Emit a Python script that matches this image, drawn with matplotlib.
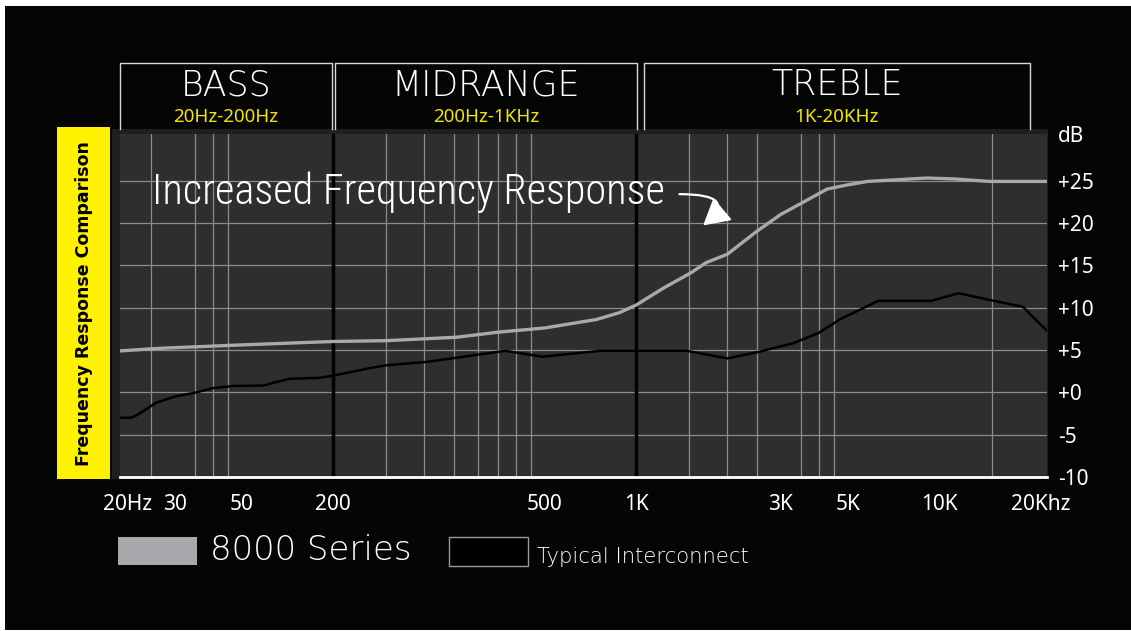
import numpy as np
import matplotlib
matplotlib.use("Agg")
import matplotlib.pyplot as plt
from matplotlib.patches import Rectangle, FancyArrowPatch
from matplotlib.ticker import NullFormatter
from matplotlib.transforms import blended_transform_factory, ScaledTranslation

# 8000 Series response (Hz, dB)
series_freq = [20, 27, 50, 100, 150, 255, 350, 500, 740, 880, 1000, 1230, 1430,
               1530, 1700, 2000, 2500, 3000, 3500, 4270, 5000, 5800, 9100,
               11100, 14700, 22700]
series_db = [4.9, 5.2, 5.6, 6.0, 6.1, 6.5, 7.1, 7.6, 8.6, 9.4, 10.3, 12.3, 13.6,
             14.2, 15.3, 16.3, 19.0, 21.0, 22.3, 24.0, 24.5, 24.9, 25.3,
             25.2, 24.9, 24.9]

# typical interconnect (Hz, dB)
typ_freq = [20, 21.5, 22.5, 26, 30, 35.5, 40, 47, 59, 63, 72, 89, 98, 130, 150,
            205, 370, 490, 760, 1470, 2000, 2560, 3300, 4000, 4700, 6300, 9400,
            11600, 14700, 18900, 20500, 22700]
typ_db = [-3.0, -3.0, -2.7, -1.25, -0.5, 0.0, 0.5, 0.75, 0.8, 1.1, 1.6, 1.7, 1.9,
          2.8, 3.2, 3.6, 4.9, 4.2, 4.9, 4.9, 4.0, 4.8, 5.8, 7.0, 8.6, 10.8, 10.8,
          11.7, 10.9, 10.1, 8.8, 7.3]

tick_freq = [20, 30, 50, 100, 500, 1000, 3000, 5000, 10000, 20000]
tick_text = ['20Hz', '30', '50', '200', '500', '1K', '3K', '5K', '10K', '20Khz']
grid_freq = [25, 30, 35, 40, 45, 50, 150, 200, 250, 300, 350, 400, 450, 500,
             1500, 2000, 2500, 3000, 3500, 4000, 4500, 5000, 10000, 15000, 20000]
band_lines = [100, 1000]
db_ticks = [-10, -5, 0, 5, 10, 15, 20, 25]
db_text = ['-10', '-5', '+0', '+5', '+10', '+15', '+20', '+25']

bands = ['BASS', 'MIDRANGE', 'TREBLE']
band_ranges = ['20Hz-200Hz', '200Hz-1KHz', '1K-20KHz']
band_edges = [(19.8, 99), (101.5, 1005), (1060, 19900)]

W, H = 1131, 631
fig = plt.figure(figsize=(W / 100, H / 100), dpi=100, facecolor='white')


def fx(x):
    return x / W


def fy(y):
    return 1 - y / H


def frect(x0, y0, x1, y1, **kw):
    # rectangle given in pixel coords (top-left origin)
    r = Rectangle((fx(x0), fy(y1)), fx(x1 - x0), (y1 - y0) / H,
                  transform=fig.transFigure, **kw)
    fig.patches.append(r)
    return r


# black background and dark plot frame
frect(5, 6, W, 630, facecolor='#050505', edgecolor='none', zorder=-3)
frect(112, 129, 1048, 479, facecolor='#1f1f1f', edgecolor='none', zorder=-2)
# yellow side label
frect(57, 127, 110, 479, facecolor='#fff200', edgecolor='none', zorder=-1)
fig.text(fx(84), fy(304), 'Frequency Response Comparison', rotation=90,
         ha='center', va='center', color='black', fontsize=12.5,
         fontweight='bold', family='DejaVu Sans')

ax = fig.add_axes([fx(120), fy(477), fx(1047 - 120), (477 - 134) / H])
ax.set_facecolor('#2f2e2f')
ax.set_xscale('log')
ax.set_xlim(19.8, 22700)
ax.set_ylim(-10, 30.5)

for s in ax.spines.values():
    s.set_visible(False)

# grid
ax.set_xticks(grid_freq, minor=True)
ax.xaxis.set_minor_formatter(NullFormatter())
ax.grid(which='minor', axis='x', color='#8c8c8c', lw=0.9)
ax.grid(which='major', axis='x', visible=False)
ax.set_yticks(db_ticks)
ax.set_yticklabels(db_text)
ax.grid(which='major', axis='y', color='#8c8c8c', lw=0.9)
ax.set_axisbelow(True)
for f in band_lines:
    ax.axvline(f, color='black', lw=2.5, zorder=2)
ax.axhline(-10, color='white', lw=2, zorder=3, clip_on=False)

ax.set_xticks(tick_freq)
ax.set_xticklabels(tick_text)
ax.tick_params(axis='x', which='both', length=0, pad=12, labelsize=15,
               labelcolor='white')
ax.yaxis.tick_right()
ax.tick_params(axis='y', length=0, pad=8, labelsize=15, labelcolor='white')
for lab in ax.get_xticklabels() + ax.get_yticklabels():
    lab.set_family('Noto Sans')
xl = ax.get_xticklabels()
xl[0].set_transform(xl[0].get_transform() + ScaledTranslation(6 / 100, 0, fig.dpi_scale_trans))
xl[-1].set_transform(xl[-1].get_transform() + ScaledTranslation(10 / 100, 0, fig.dpi_scale_trans))
ax.text(1.012, 30.2, 'dB', transform=blended_transform_factory(ax.transAxes, ax.transData),
        color='white', fontsize=15, family='Noto Sans', va='center', ha='left')

# curves
ax.plot(series_freq, series_db, color='#a7a9ac', lw=2.4, zorder=4)
ax.plot(typ_freq, typ_db, color='black', lw=1.8, zorder=4)

# header boxes
bt = blended_transform_factory(ax.transData, ax.transAxes)
top = (477 - 63) / 343
bot = (477 - 129) / 343
for name, rng, (a, b) in zip(bands, band_ranges, band_edges):
    ax.plot([a, a, b, b], [bot, top, top, bot], color='#d8d8d8', lw=1,
            transform=bt, clip_on=False)
    mid = np.sqrt(a * b)
    ax.text(mid, (477 - 85) / 343, name, transform=bt, ha='center', va='center',
            color='white', fontsize=25, fontweight='light', family='DejaVu Sans')
    ax.text(mid, (477 - 117) / 343, rng, transform=bt, ha='center', va='center',
            color='#f2e600', fontsize=13.5, family='Noto Sans')

# callout
ax.text(25.3, 22.2, 'Increased Frequency Response', color='white', fontsize=30.5,
        va='baseline', ha='left', fontweight='light',
        family=['Roboto Condensed', 'Liberation Sans Narrow', 'Liberation Sans'])
arrow = FancyArrowPatch((1390, 23.4), (1664, 19.7),
                        connectionstyle='angle3,angleA=0,angleB=40',
                        arrowstyle='-|>,head_length=16,head_width=9',
                        color='white', lw=1.6, zorder=6, shrinkA=0, shrinkB=0)
ax.add_patch(arrow)

# legend
frect(118, 537, 197, 565, facecolor='#a7a9ac', edgecolor='none')
fig.text(fx(210), fy(551), '8000 Series', color='white', fontsize=24.5,
         fontweight='light', family='DejaVu Sans', va='center', ha='left')
frect(449, 537, 528, 566, facecolor='black', edgecolor='#9a9a9a', lw=1)
fig.text(fx(537), fy(557), 'Typical Interconnect', color='white', fontsize=15.2,
         fontweight='light', family='DejaVu Sans', va='center', ha='left')

fig.savefig('out.png', dpi=100, facecolor='white')
